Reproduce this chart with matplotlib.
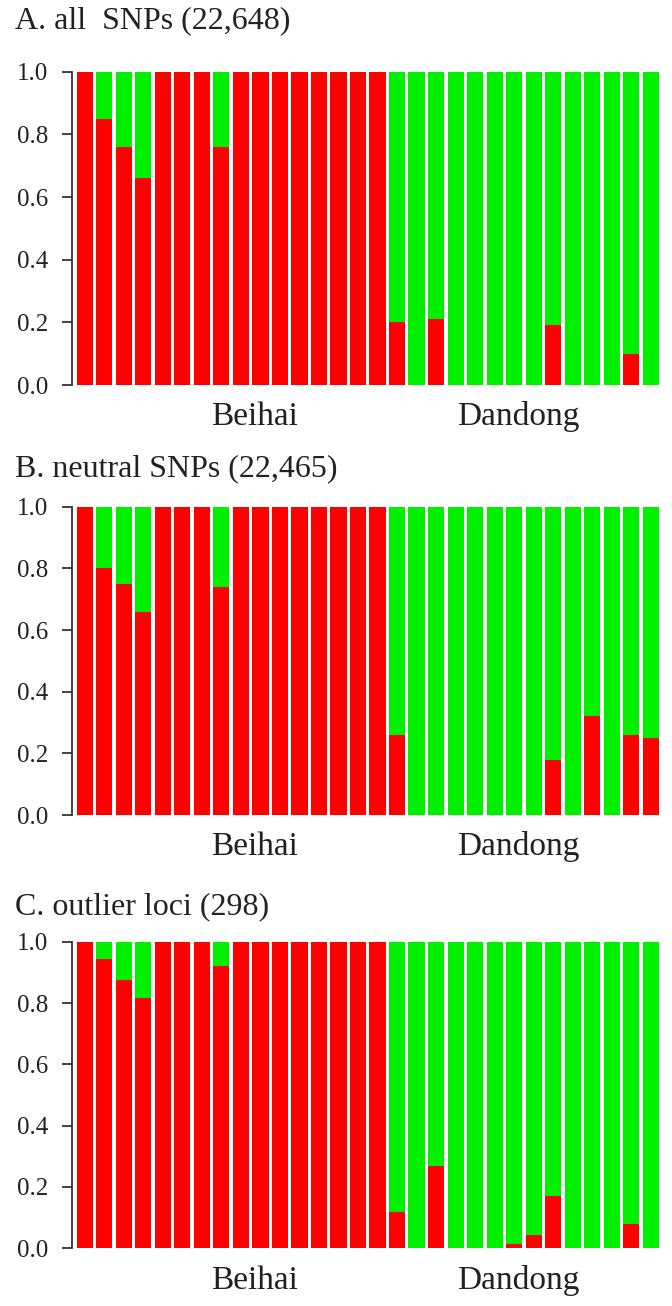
import matplotlib
matplotlib.use('Agg')
import matplotlib.pyplot as plt
import numpy as np

# proportion of the red (Beihai) cluster for each individual
beihai_n = 16
dandong_n = 14

red_all = [1, .85, .76, .66, 1, 1, 1, .76, 1, 1, 1, 1, 1, 1, 1, 1,
           .20, 0, .21, 0, 0, 0, 0, 0, .19, 0, 0, 0, .10, 0]
red_neutral = [1, .80, .75, .66, 1, 1, 1, .74, 1, 1, 1, 1, 1, 1, 1, 1,
               .26, 0, 0, 0, 0, 0, 0, 0, .18, 0, .32, 0, .26, .25]
red_outlier = [1, .945, .875, .815, 1, 1, 1, .92, 1, 1, 1, 1, 1, 1, 1, 1,
               .12, 0, .27, 0, 0, 0, .015, .045, .17, 0, 0, 0, .08, 0]

titles = ['A. all  SNPs (22,648)', 'B. neutral SNPs (22,465)', 'C. outlier loci (298)']
groups = ['Beihai', 'Dandong']
ticks = [0.0, 0.2, 0.4, 0.6, 0.8, 1.0]

RED = '#ff0000'
GREEN = '#00f000'
TXT = '#222222'

plt.rcParams['font.family'] = ['Liberation Serif', 'DejaVu Serif']

W, H = 672, 1306
fig = plt.figure(figsize=(W / 100, H / 100), dpi=100)

# panel boxes in pixels: (top, bottom), title baseline
boxes = [(71.7, 385.0, 28), (506.7, 815.0, 476.7), (941.7, 1248.3, 914)]
left_px, right_px = 71.7, 662

x = np.arange(beihai_n + dandong_n)

for data, title, (top, bot, tb) in zip([red_all, red_neutral, red_outlier], titles, boxes):
    ax = fig.add_axes([left_px / W, 1 - bot / H, (right_px - left_px) / W, (bot - top) / H])
    red = np.array(data)
    ax.bar(x, red, width=0.83, color=RED, linewidth=0)
    ax.bar(x, 1 - red, bottom=red, width=0.83, color=GREEN, linewidth=0)

    ax.set_xlim(-0.666, 29.57)
    ax.set_ylim(0, 1)
    for s in ['top', 'right', 'bottom']:
        ax.spines[s].set_visible(False)
    ax.spines['left'].set_color('#333333')
    ax.spines['left'].set_linewidth(1.3)
    ax.set_xticks([])
    ax.set_yticks(ticks)
    ax.set_yticklabels(['%.1f' % t for t in ticks])
    ax.tick_params(axis='y', direction='out', length=7.2, width=1.3, color='#333333',
                   labelsize=18, labelcolor=TXT, pad=10)

    centres = [(beihai_n - 1) / 2 + 1.2, beihai_n + (dandong_n - 1) / 2 - 0.3]
    for g, cx in zip(groups, centres):
        ax.annotate(g, xy=(cx, 0), xycoords=('data', 'axes fraction'),
                    xytext=(0, -29), textcoords='offset points',
                    ha='center', va='baseline', fontsize=24, color=TXT)

    fig.text(15 / W, 1 - tb / H, title, ha='left', va='baseline', fontsize=23, color=TXT)

fig.savefig('out.png', dpi=100, facecolor='white')
